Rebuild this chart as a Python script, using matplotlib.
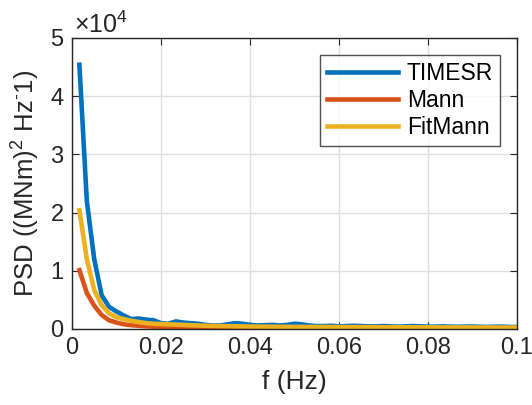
import numpy as np
import matplotlib
matplotlib.use("Agg")
import matplotlib.pyplot as plt
from matplotlib.ticker import FuncFormatter

plt.rcParams['font.family'] = ['Liberation Sans', 'DejaVu Sans']
plt.rcParams['mathtext.fontset'] = 'custom'
plt.rcParams['mathtext.rm'] = 'Liberation Sans'
plt.rcParams['mathtext.it'] = 'Liberation Sans'

freq = [k / 600 for k in range(1, 61)]

timesr = [45400, 22000, 12000, 5800, 3800, 3000, 2300, 1700, 1800, 1600,
          1500, 1000, 900, 1300, 1100, 1000, 900, 700, 600, 600,
          800, 1000, 900, 700, 600, 650, 700, 600, 700, 900,
          800, 600, 500, 500, 550, 450, 500, 550, 500, 450,
          450, 500, 450, 400, 450, 500, 450, 400, 400, 450,
          400, 380, 400, 420, 380, 350, 380, 400, 350, 330]
mann = [10100, 6200, 4000, 2400, 1500, 1100, 800, 650, 550, 450,
        400, 350, 300, 250, 230, 210, 200, 190, 180, 170,
        160, 160, 150, 150, 140, 140, 140, 130, 130, 130,
        120, 120, 120, 110, 110, 110, 110, 100, 100, 100,
        100, 100, 95, 95, 95, 90, 90, 90, 90, 85,
        85, 85, 85, 80, 80, 80, 80, 80, 75, 75]
fitmann = [20400, 12000, 6700, 4100, 2700, 2000, 1700, 1400, 1200, 1000,
           900, 850, 800, 750, 700, 650, 600, 560, 530, 500,
           480, 460, 440, 420, 410, 400, 390, 380, 370, 360,
           355, 350, 345, 340, 335, 330, 325, 320, 315, 310,
           305, 300, 300, 295, 290, 290, 285, 280, 280, 275,
           270, 270, 265, 265, 260, 260, 255, 255, 250, 250]

labels = ['TIMESR', 'Mann', 'FitMann']
colors = ['#0072BD', '#D95319', '#EDB120']

fig = plt.figure(figsize=(5.32, 4.05), dpi=100)
ax = fig.add_axes([0.1353, 0.1877, 0.8365, 0.7185])

for y, lab, c in zip([timesr, mann, fitmann], labels, colors):
    ax.plot(freq, y, color=c, lw=3.3, label=lab, solid_joinstyle='round')

ax.set_xlim(0, 0.1)
ax.set_ylim(0, 50000)
ax.set_xticks([0, 0.02, 0.04, 0.06, 0.08, 0.1])
ax.set_xticklabels(['0', '0.02', '0.04', '0.06', '0.08', '0.1'])
ax.set_yticks([0, 10000, 20000, 30000, 40000, 50000])
ax.yaxis.set_major_formatter(FuncFormatter(lambda v, p: f"{v/1e4:g}"))
ax.grid(True, color='#dfdfdf', lw=1)
ax.set_axisbelow(True)
ax.tick_params(direction='in', top=True, right=True, labelsize=17, length=5,
               colors='#262626', labelcolor='#262626', pad=6)
for s in ax.spines.values():
    s.set_color('#262626')
    s.set_linewidth(1)

ax.set_xlabel('f (Hz)', fontsize=19, color='#262626', labelpad=8)
ax.set_ylabel(r'PSD ((MNm)$^2$ Hz$^{\text{-}}$1)', fontsize=18.5, color='#262626', labelpad=6)
ax.text(0.005, 1.017, '\u00d710$^4$', transform=ax.transAxes, fontsize=18,
        color='#262626', ha='left', va='baseline')

leg = ax.legend(loc='upper right', bbox_to_anchor=(0.962, 0.941), fontsize=16.5,
                frameon=True, fancybox=False, edgecolor='#262626',
                handlelength=3.1, handletextpad=0.4, labelspacing=0.18,
                borderpad=0.3, borderaxespad=0)
leg.get_frame().set_linewidth(1)

fig.savefig('out.png', dpi=100)
